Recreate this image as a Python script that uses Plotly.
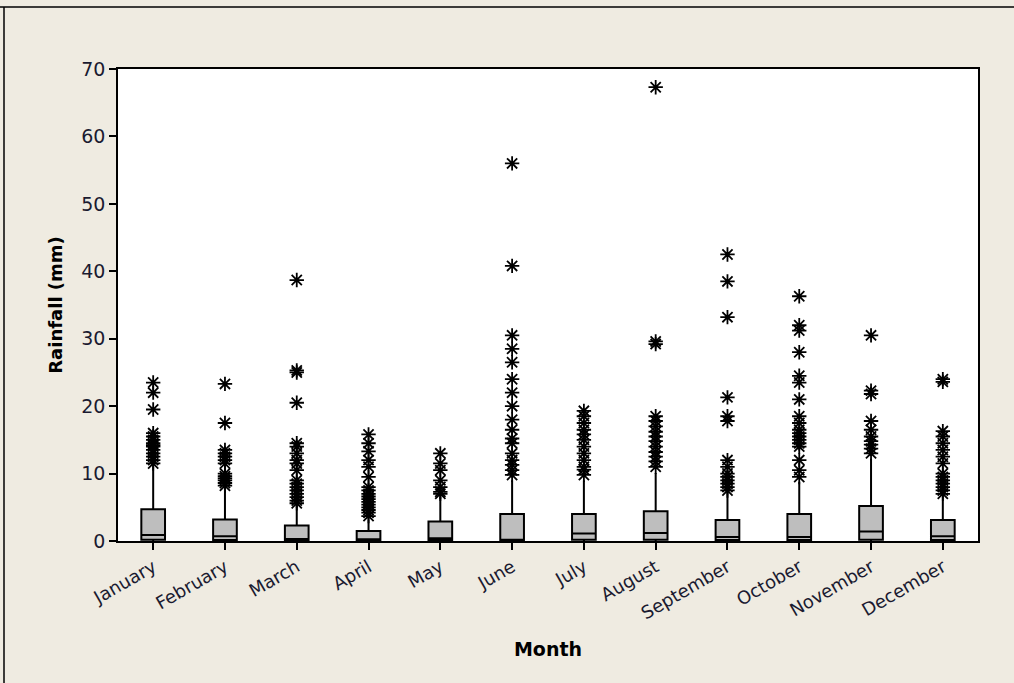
import plotly.graph_objects as go

months = ["January", "February", "March", "April", "May", "June", "July",
          "August", "September", "October", "November", "December"]
tick_labels = ["January", "February", "March", "April", "May", "June", "July",
               "August", "September", "October", "November", "December"]

q1 = [0.2, 0.15, 0.1, 0.1, 0.1, 0.05, 0.2, 0.2, 0.15, 0.15, 0.2, 0.15]
median = [0.9, 0.7, 0.3, 0.2, 0.4, 0.2, 1.1, 1.2, 0.6, 0.6, 1.4, 0.7]
q3 = [4.7, 3.2, 2.3, 1.5, 2.9, 4.0, 4.0, 4.4, 3.1, 4.0, 5.2, 3.1]
lower = [0, 0, 0, 0, 0, 0, 0, 0, 0, 0, 0, 0]
upper = [11.0, 7.8, 5.3, 3.1, 6.6, 9.0, 9.0, 10.1, 7.1, 8.8, 12.2, 6.6]

outliers = {
    "January": [11.5, 12, 12.5, 13, 13.5, 14, 14.2, 14.5, 15, 15.5, 16, 19.5, 22, 23.5],
    "February": [8.2, 8.6, 9, 9.3, 9.6, 10, 11.5, 12, 12.5, 13, 13.5, 17.5, 23.3],
    "March": [5.6, 6, 6.5, 7, 7.5, 8, 8.5, 9, 10.5, 11.5, 12, 13, 14, 14.5, 20.5, 25, 25.3, 38.7],
    "April": [3.7, 4.2, 4.6, 5, 5.4, 5.8, 6.2, 6.6, 7, 7.5, 8, 9.5, 11, 12, 13.3, 14.5, 15.8],
    "May": [7, 7.3, 8, 9, 10.5, 11.5, 13],
    "June": [9.8, 10.5, 11.3, 12, 13, 14.5, 15.2, 16.5, 18, 20, 22, 24, 26.5, 28.5, 30.5, 40.8, 56],
    "July": [9.8, 10.6, 11, 12, 13, 14, 15, 15.8, 16.5, 17.5, 18.5, 19.3],
    "August": [11, 11.8, 12.5, 13.2, 14, 14.8, 15.5, 16.2, 17, 17.8, 18.5, 29.2, 29.6, 67.3],
    "September": [7.5, 8, 8.5, 9, 9.5, 10, 11, 12, 17.8, 18.5, 21.3, 33.2, 38.5, 42.5],
    "October": [9.5, 10.5, 12, 14, 14.5, 15, 15.5, 16, 16.5, 17.5, 18.5, 21, 23.5, 24.5, 28, 31.2, 32, 36.3],
    "November": [13, 13.7, 14.3, 14.8, 15.5, 16.5, 17.8, 21.8, 22.3, 30.5],
    "December": [7, 7.5, 8, 8.5, 9, 9.5, 10, 11.5, 12.5, 13.5, 14.5, 15.5, 16.3, 23.6, 24],
}

BG = "#EFEBE1"
FONT = "DejaVu Sans"
TXT = "#1a1a30"

fig = go.Figure()
fig.add_trace(go.Box(
    x=months, q1=q1, median=median, q3=q3,
    lowerfence=lower, upperfence=upper,
    fillcolor="#BEBEBE", line=dict(color="black", width=2),
    whiskerwidth=0, width=0.33, boxpoints=False, showlegend=False,
    hoverinfo="skip",
))

for m in months:
    ys = outliers[m]
    fig.add_trace(go.Scatter(
        x=[m] * len(ys), y=ys, mode="markers",
        marker=dict(symbol="asterisk-open", size=12, color="black",
                    line=dict(color="black", width=1.8)),
        showlegend=False, hoverinfo="skip",
    ))

fig.update_layout(
    width=1014, height=683,
    margin=dict(l=118, r=36, t=69, b=142),
    paper_bgcolor=BG, plot_bgcolor="white",
    font=dict(family=FONT, size=18, color=TXT),
    showlegend=False,
)
fig.update_xaxes(
    type="category", categoryorder="array", categoryarray=months,
    tickmode="array", tickvals=months, ticktext=tick_labels,
    range=[-0.49, 11.49], tickangle=-30,
    showline=True, linecolor="black", linewidth=1.5, mirror=True,
    ticks="outside", ticklen=7, tickcolor="black", tickwidth=1.5,
    showgrid=False, zeroline=False,
    tickfont=dict(family=FONT, size=18, color=TXT),
    title=dict(text="<b>Month</b>", font=dict(family=FONT, size=19, color="black"), standoff=20),
)
fig.update_yaxes(
    range=[0, 70], tickvals=[0, 10, 20, 30, 40, 50, 60, 70],
    showline=True, linecolor="black", linewidth=1.5, mirror=True,
    ticks="outside", ticklen=7, tickcolor="black", tickwidth=1.5,
    showgrid=False, zeroline=False,
    tickfont=dict(family=FONT, size=19, color=TXT),
    title=dict(text="<b>Rainfall (mm)</b>", font=dict(family=FONT, size=18, color="black"), standoff=14),
)

# outer frame lines (top and left) like the source window border
fig.add_shape(type="line", xref="paper", yref="paper",
              x0=-118/860, x1=(1014-118)/860, y0=(683-142-7)/472, y1=(683-142-7)/472,
              line=dict(color="black", width=1.5))
fig.add_shape(type="line", xref="paper", yref="paper",
              x0=-114/860, x1=-114/860, y0=(683-142-7)/472, y1=-142/472,
              line=dict(color="black", width=1.5))

fig.write_html("out.html")
